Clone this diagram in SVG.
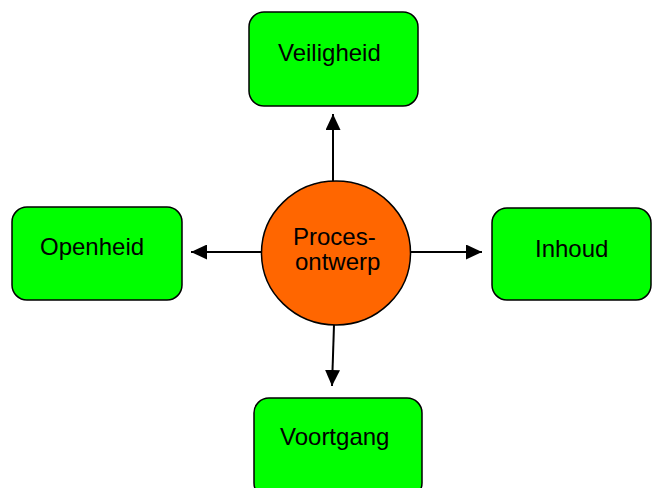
<svg xmlns="http://www.w3.org/2000/svg" width="652" height="488" viewBox="0 0 652 488">
<style>
.box{fill:#00FF00;stroke:#000;stroke-width:1.5}
.circ{fill:#FF6600;stroke:#000;stroke-width:1.5}
.lbl{font-family:"Liberation Sans",Arial,sans-serif;font-size:24px;fill:#000}
.conn{stroke:#000;stroke-width:2;fill:none;marker-end:url(#ah)}
</style>
<defs>
<marker id="ah" viewBox="0 0 16 15" refX="16" refY="7.5" markerWidth="16" markerHeight="15" markerUnits="userSpaceOnUse" orient="auto">
<path d="M0,0 L16,7.5 L0,15 z" fill="#000"/>
</marker>
</defs>
<rect width="652" height="488" fill="#fff"/>
<g id="connectors">
<line class="conn" x1="333" y1="181" x2="333" y2="114"/>
<line class="conn" x1="262" y1="252" x2="191" y2="252"/>
<line class="conn" x1="410" y1="252" x2="482" y2="252"/>
<line class="conn" x1="334" y1="325" x2="332" y2="386"/>
</g>
<g id="veiligheid">
<rect class="box" x="249" y="12" width="169" height="94" rx="15"/>
<text class="lbl" x="278" y="61">Veiligheid</text>
</g>
<g id="openheid">
<rect class="box" x="12" y="207" width="170" height="93" rx="15"/>
<text class="lbl" x="40" y="255">Openheid</text>
</g>
<g id="inhoud">
<rect class="box" x="492" y="208" width="159" height="92" rx="15"/>
<text class="lbl" x="535" y="257">Inhoud</text>
</g>
<g id="voortgang">
<rect class="box" x="254" y="398" width="168" height="100" rx="15"/>
<text class="lbl" x="280" y="445">Voortgang</text>
</g>
<g id="procesontwerp">
<ellipse class="circ" cx="336" cy="253" rx="74.5" ry="72"/>
<text class="lbl" x="293" y="245">Proces-</text>
<text class="lbl" x="295" y="270">ontwerp</text>
</g>
</svg>
